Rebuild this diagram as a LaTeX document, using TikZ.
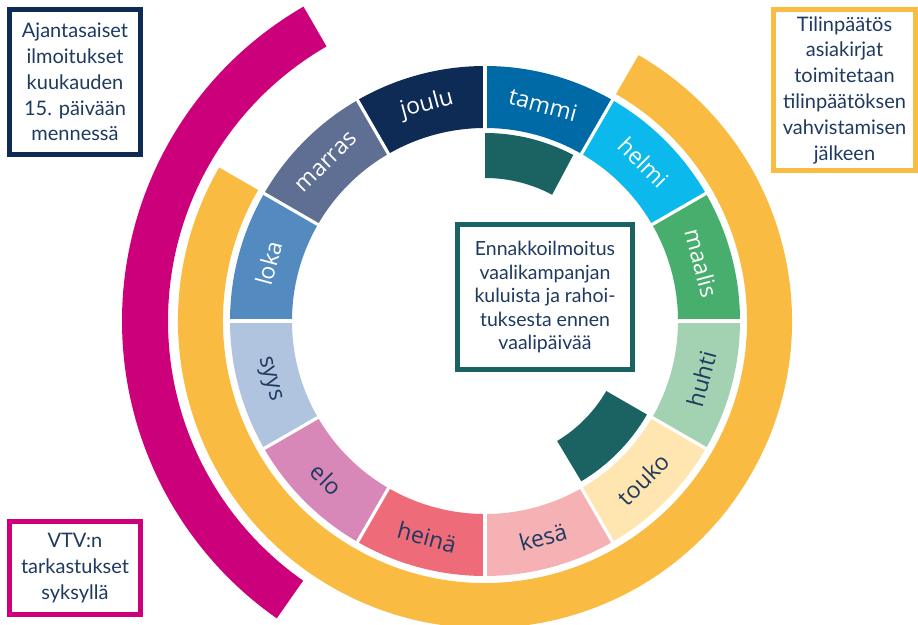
\documentclass[tikz,border=0pt]{standalone}
\usepackage{fontspec}
\setmainfont{Lato}
\newfontfamily\monthfont{Open Sans}
\definecolor{cTammi}{HTML}{006AA7}
\definecolor{cHelmi}{HTML}{0CB9EC}
\definecolor{cMaalis}{HTML}{47AE6D}
\definecolor{cHuhti}{HTML}{A3D2B3}
\definecolor{cTouko}{HTML}{FFE6B1}
\definecolor{cKesa}{HTML}{F6B1B5}
\definecolor{cHeina}{HTML}{EE6B79}
\definecolor{cElo}{HTML}{D888B8}
\definecolor{cSyys}{HTML}{B0C4E0}
\definecolor{cLoka}{HTML}{538BC1}
\definecolor{cMarras}{HTML}{5E6F93}
\definecolor{cJoulu}{HTML}{0D2B55}
\definecolor{cOrange}{HTML}{F9BB42}
\definecolor{cMagenta}{HTML}{CD007B}
\definecolor{cTeal}{HTML}{1B6363}
\definecolor{cNavy}{HTML}{1E3A5F}
\newcommand\annsector[5]{%
  \fill[#1] (#2:#4) arc[start angle=#2, end angle=#3, radius=#4] -- (#3:#5) arc[start angle=#3, end angle=#2, radius=#5] -- cycle;}
\tikzset{
  infobox/.style={draw, line width=5pt, fill=white, inner sep=0pt, align=center,
    text=cNavy, font=\fontsize{20}{25.8}\selectfont},
  monthlbl/.style={font=\monthfont\fontsize{23}{24}\selectfont, inner sep=0pt},
  lightlbl/.style={monthlbl, text=white},
  darklbl/.style={monthlbl, text=cNavy},
}
\begin{document}
\begin{tikzpicture}[x=1pt,y=1pt]
\useasboundingbox (0,0) rectangle (918,624);
\begin{scope}[shift={(485,303)}]
  % outer rings
  \annsector{cMagenta}{120}{235}{317pt}{363pt}
  \annsector{cOrange}{-210}{60}{262pt}{307pt}
  % month ring
  \annsector{cTammi}{90}{60}{193pt}{255pt}
  \annsector{cHelmi}{60}{30}{193pt}{255pt}
  \annsector{cMaalis}{30}{0}{193pt}{255pt}
  \annsector{cHuhti}{0}{-30}{193pt}{255pt}
  \annsector{cTouko}{-30}{-60}{193pt}{255pt}
  \annsector{cKesa}{-60}{-90}{193pt}{255pt}
  \annsector{cHeina}{-90}{-120}{193pt}{255pt}
  \annsector{cElo}{-120}{-150}{193pt}{255pt}
  \annsector{cSyys}{-150}{-180}{193pt}{255pt}
  \annsector{cLoka}{180}{150}{193pt}{255pt}
  \annsector{cMarras}{150}{120}{193pt}{255pt}
  \annsector{cJoulu}{120}{90}{193pt}{255pt}
  \foreach \a in {0,30,...,330}{
    \draw[white, line width=3.2pt] (\a:188pt) -- (\a:260pt);
  }
  % teal arcs
  \annsector{cTeal}{62}{90}{143pt}{188pt}
  \annsector{cTeal}{-59}{-30}{140pt}{187pt}
  % month labels
  \node[lightlbl, rotate=-15] (mTammi) at (75:224pt) {tammi};
  \node[lightlbl, rotate=-45] (mHelmi) at (45:224pt) {helmi};
  \node[lightlbl, rotate=-75] (mMaalis) at (15:224pt) {maalis};
  \node[darklbl, rotate=75] (mHuhti) at (-15:224pt) {huhti};
  \node[darklbl, rotate=45] (mTouko) at (-45:224pt) {touko};
  \node[darklbl, rotate=15] (mKesa) at (-75:224pt) {kesä};
  \node[darklbl, rotate=-15] (mHeina) at (-105:224pt) {heinä};
  \node[darklbl, rotate=-45] (mElo) at (-135:224pt) {elo};
  \node[darklbl, rotate=-75] (mSyys) at (-165:224pt) {syys};
  \node[lightlbl, rotate=75] (mLoka) at (165:224pt) {loka};
  \node[lightlbl, rotate=45] (mMarras) at (135:224pt) {marras};
  \node[lightlbl, rotate=15] (mJoulu) at (105:224pt) {joulu};
\end{scope}
% info boxes
\node[infobox, draw=cJoulu, minimum width=131pt, minimum height=145pt] (bAjan) at (75,542)
  {Ajantasaiset\\ilmoitukset\\kuukauden\\15. päivään\\mennessä};
\node[infobox, draw=cOrange, minimum width=142pt, minimum height=161pt] (bTilin) at (844.5,534)
  {Tilinpäätös\\asiakirjat\\toimitetaan\\tilinpäätöksen\\vahvistamisen\\jälkeen};
\node[infobox, draw=cMagenta, minimum width=131pt, minimum height=93pt] (bVTV) at (75,56)
  {VTV:n\\tarkastukset\\syksyllä};
\node[infobox, draw=cTeal, minimum width=175pt, minimum height=145pt,
  font=\fontsize{19.5}{23.5}\selectfont] (bEnna) at (545,327)
  {Ennakkoilmoitus\\vaalikampanjan\\kuluista ja rahoi-\\tuksesta ennen\\vaalipäivää};
\end{tikzpicture}
\end{document}
